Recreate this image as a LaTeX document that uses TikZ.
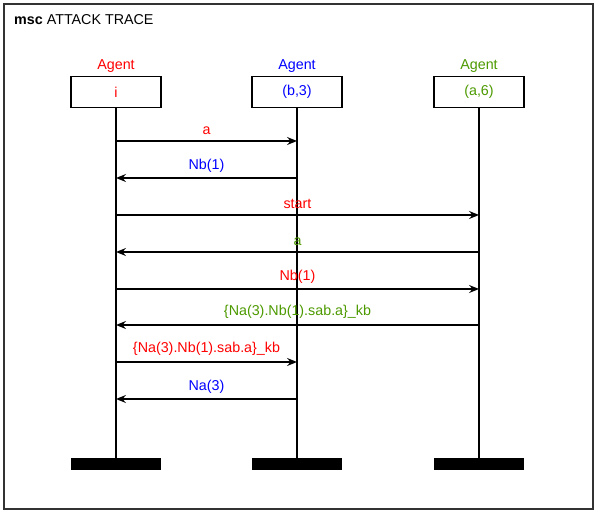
\documentclass[tikz,border=0pt]{standalone}
\usepackage{fontspec}
\setmainfont{Liberation Sans}
\usetikzlibrary{positioning,arrows.meta}
\definecolor{agentgreen}{RGB}{76,153,0}
\begin{document}
\begin{tikzpicture}
            [x=1pt, y=-1pt, font=\fontsize{14.3}{17}\selectfont,
            agent/.style={rectangle,draw,line width=1.4pt,minimum width=90pt,minimum height=31pt, inner sep=0pt},
            role/.style={inner sep=1pt},
            bar/.style={rectangle,fill=black,minimum width=90pt,minimum height=12pt, inner sep=0pt},
            life/.style={line width=1.4pt, black},
            msg/.style={line width=1.4pt, black, -{Stealth[length=10pt,width=8pt,inset=3.5pt]}},
            lbl/.style={above, yshift=2pt}]

            \useasboundingbox (0,0) rectangle (595,513);

            % Frame and title
            \draw[line width=1.6pt, black!80] (4,4) rectangle (593,509);
            \node[anchor=west, inner sep=0pt] (title) at (14,20) {\textbf{msc} ATTACK TRACE};

            % Instances
            \node[agent, text=red] (i) at (116,92) {i};
            \node[agent, text=blue] (b) at (297,92) {(b,3)};
            \node[agent, text=agentgreen] (a) at (479,92) {(a,6)};
            \node[role, red, above=2.5pt of i] (ri) {Agent};
            \node[role, blue, above=2.5pt of b] (rb) {Agent};
            \node[role, agentgreen, above=2.5pt of a] (ra) {Agent};

            % Instance ends
            \node[bar] (endi) at (116,464) {};
            \node[bar] (endb) at (297,464) {};
            \node[bar] (enda) at (479,464) {};

            % Lifelines
            \draw[life] (i) -- (endi);
            \draw[life] (b) -- (endb);
            \draw[life] (a) -- (enda);

            % Messages
            \draw[msg] (i |- 0,141) -- node[lbl, red] {a} (b |- 0,141);
            \draw[msg] (b |- 0,178) -- node[lbl, blue] {Nb(1)} (i |- 0,178);
            \draw[msg] (i |- 0,215) -- node[lbl, red] {start} (a |- 0,215);
            \draw[msg] (a |- 0,252) -- node[lbl, agentgreen] {a} (i |- 0,252);
            \draw[msg] (i |- 0,289) -- node[lbl, red] {Nb(1)} (a |- 0,289);
            \draw[msg] (a |- 0,325) -- node[lbl, agentgreen] {\{Na(3).Nb(1).sab.a\}\_kb} (i |- 0,325);
            \draw[msg] (i |- 0,362) -- node[lbl, red] {\{Na(3).Nb(1).sab.a\}\_kb} (b |- 0,362);
            \draw[msg] (b |- 0,399) -- node[lbl, blue] {Na(3)} (i |- 0,399);

        \end{tikzpicture}
\end{document}
